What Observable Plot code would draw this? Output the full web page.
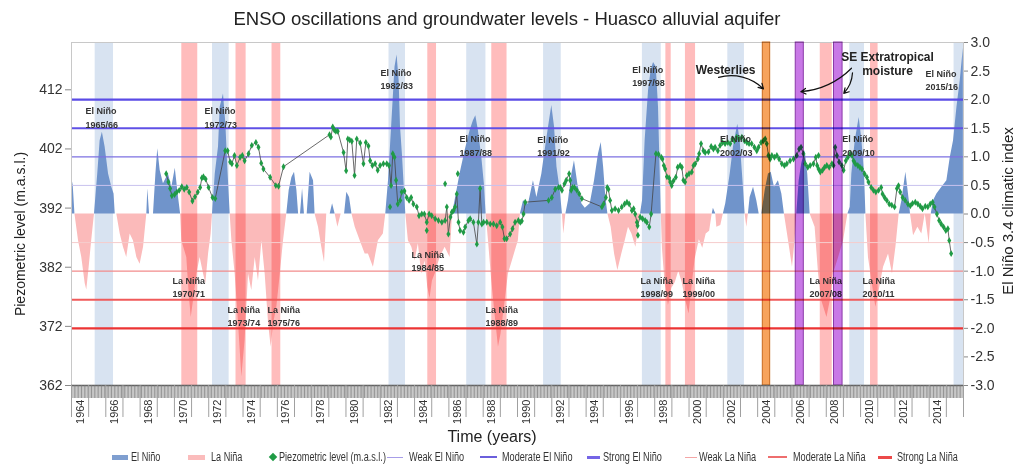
<!DOCTYPE html>
<html><head><meta charset="utf-8">
<script src="https://cdn.jsdelivr.net/npm/d3@7"></script>
<script src="https://cdn.jsdelivr.net/npm/@observablehq/plot@0.6"></script>
<style>
body{margin:0;background:#fff;font-family:Arial,"Liberation Sans",sans-serif;color:#222;}
#wrap{position:relative;width:1019px;height:467px;overflow:hidden;background:#fff;}
#chart{position:absolute;left:0;top:0;}
.abs{position:absolute;white-space:nowrap;}
.rot{transform:translate(-50%,-50%) rotate(-90deg);}
.leg{position:absolute;top:450px;height:14px;font-family:Arial,"Liberation Sans",sans-serif;font-size:12px;line-height:14px;color:#333;white-space:nowrap;transform:scaleX(0.76);transform-origin:0 50%;}
.sw{position:absolute;}
</style></head><body>
<div id="wrap"><div id="chart"></div></div>
<script>
// ---------------- data ----------------
const ensoIndex = [
[1964.0,0.65],[1964.1,0.5],[1964.2,0],
[1964.41,-0.47],[1964.6,-0.76],[1964.8,-1.22],[1964.89,-1.33],[1965.03,-0.93],[1965.18,-0.46],[1965.34,0],
[1965.53,0.7],[1965.67,1.28],[1965.8,1.43],[1965.96,1.17],[1966.16,0.7],[1966.35,0.47],[1966.48,0.35],[1966.55,0],
[1966.64,0],[1966.84,-0.35],[1967.03,-0.58],[1967.22,-0.76],[1967.42,-0.35],[1967.61,-0.47],[1967.81,-0.76],[1968.0,-0.88],[1968.2,-0.58],[1968.39,0],
[1968.45,0.44],[1968.55,0],[1968.78,0],[1968.92,0.7],[1969.03,1.14],[1969.17,0.76],[1969.36,0.53],[1969.65,0.7],[1969.85,0.47],[1970.05,0.8],[1970.24,0.29],[1970.36,0],
[1970.43,-0.47],[1970.72,-0.76],[1970.86,-1.4],[1970.98,-1.81],[1971.11,-1.52],[1971.31,-1.05],[1971.5,-0.76],[1971.7,-1.05],[1971.83,-1.22],[1971.99,-0.7],[1972.14,-0.35],[1972.22,0],
[1972.38,0.7],[1972.57,1.17],[1972.67,1.87],[1972.86,2.1],[1973.0,1.57],[1973.11,0.82],[1973.25,0],
[1973.35,-0.47],[1973.54,-1.05],[1973.74,-1.92],[1973.93,-2.85],[1974.12,-2.21],[1974.32,-1.05],[1974.51,-1.34],[1974.71,-0.76],[1974.9,-1.17],[1975.1,-0.47],[1975.29,-1.05],[1975.49,-1.92],[1975.64,-2.33],[1975.78,-1.92],[1975.97,-1.63],[1976.17,-1.05],[1976.36,-0.47],[1976.55,0],
[1976.69,0.41],[1976.85,0.64],[1977.0,0.73],[1977.14,0.41],[1977.24,0],[1977.35,0],[1977.47,0.44],[1977.58,0],[1977.74,0],[1977.91,0.73],[1978.11,0.58],[1978.2,0],
[1978.4,-0.23],[1978.59,-0.58],[1978.75,-0.85],[1978.88,0],
[1979.08,0],[1979.22,0.18],[1979.37,0],
[1979.53,-0.23],[1979.72,0],
[1979.92,0],[1980.05,0.38],[1980.21,0.29],[1980.35,0],
[1980.54,-0.23],[1980.83,-0.47],[1981.12,-0.7],[1981.31,-0.7],[1981.6,-0.93],[1981.89,-0.47],[1982.18,-0.35],[1982.32,0],
[1982.48,0.58],[1982.67,1.57],[1982.86,2.57],[1982.98,2.78],[1983.1,2.33],[1983.18,1.52],[1983.29,1.05],[1983.41,0.41],[1983.49,0],
[1983.64,-0.47],[1983.84,-0.58],[1984.03,-0.82],[1984.22,-0.52],[1984.42,-1.05],[1984.61,-0.82],[1984.77,-1.28],[1984.9,-1.48],[1985.04,-1.17],[1985.2,-1.05],[1985.49,-0.76],[1985.78,-0.58],[1986.07,-0.76],[1986.21,0],
[1986.36,0.23],[1986.65,0.7],[1986.95,1.11],[1987.24,1.46],[1987.43,1.63],[1987.57,1.72],[1987.72,1.46],[1987.92,0.99],[1988.07,0.52],[1988.17,0],
[1988.31,-0.47],[1988.5,-1.17],[1988.69,-1.75],[1988.89,-2.33],[1989.04,-2.1],[1989.28,-1.52],[1989.47,-1.05],[1989.76,-0.76],[1990.05,-0.47],[1990.17,0],
[1990.35,0.23],[1990.64,0.17],[1990.93,0.58],[1991.13,0.29],[1991.42,0.7],[1991.61,1.11],[1991.81,1.52],[1992.0,1.9],[1992.16,1.52],[1992.3,0.82],[1992.49,0.41],[1992.62,0],
[1992.7,-0.35],[1992.82,0],
[1992.97,0.23],[1993.17,0.7],[1993.32,0.93],[1993.52,0.52],[1993.75,0.18],[1993.95,0.1],[1994.24,0.18],[1994.49,0.58],[1994.72,1.05],[1994.88,1.25],[1995.02,0.82],[1995.15,0.29],[1995.27,0],
[1995.46,-0.23],[1995.66,-0.7],[1995.85,-0.99],[1996.08,-0.7],[1996.28,-0.47],[1996.47,-0.23],[1996.67,-0.35],[1996.9,-0.58],[1997.06,-0.23],[1997.17,0],
[1997.29,0.23],[1997.44,1.28],[1997.64,2.16],[1997.79,2.51],[1997.93,2.65],[1998.09,2.57],[1998.22,1.87],[1998.32,0.7],[1998.38,0],
[1998.45,-0.6],[1998.6,-1.2],[1998.8,-1.6],[1999.0,-1.3],[1999.2,-1.2],[1999.4,-1.0],[1999.6,-1.2],[1999.8,-1.5],[2000.0,-1.75],[2000.2,-1.2],[2000.35,-0.8],[2000.6,-0.45],[2000.8,-0.6],[2001.0,-0.35],[2001.2,-0.3],[2001.35,0],
[2001.42,0.1],[2001.56,0],
[2001.62,-0.23],[2001.85,-0.2],[2002.0,0],
[2002.14,0.18],[2002.4,0.7],[2002.59,1.17],[2002.84,1.57],[2002.98,1.28],[2003.17,0.47],[2003.27,0],
[2003.37,-0.23],[2003.46,0],
[2003.56,0.29],[2003.76,0.47],[2003.95,0.23],[2004.09,0],[2004.24,0],[2004.44,0.41],[2004.63,0.7],[2004.79,0.73],[2004.98,0.47],[2005.21,0.58],[2005.41,0.35],[2005.56,0],
[2005.8,-0.47],[2006.03,-0.93],[2006.18,-0.47],[2006.28,0],
[2006.42,0.58],[2006.57,0.88],[2006.77,1.11],[2006.92,0.7],[2007.06,0],
[2007.35,-0.23],[2007.55,-1.05],[2007.74,-1.52],[2008.04,-1.81],[2008.23,-1.52],[2008.42,-1.05],[2008.72,-0.76],[2009.01,-0.47],[2009.26,0],
[2009.4,0.12],[2009.49,0.7],[2009.69,1.28],[2009.92,1.69],[2010.08,1.28],[2010.23,0.7],[2010.31,0],
[2010.46,-0.76],[2010.66,-1.17],[2010.89,-1.63],[2011.05,-1.4],[2011.34,-0.93],[2011.63,-0.7],[2011.86,-1.05],[2012.06,-0.58],[2012.25,0],
[2012.41,0.23],[2012.64,0.73],[2012.84,0.23],[2012.91,0],
[2013.09,-0.38],[2013.34,-0.23],[2013.57,-0.35],[2013.77,0],[2014.0,-0.52],[2014.12,0],
[2014.25,0.23],[2014.45,0.35],[2014.74,0.47],[2015.03,0.58],[2015.23,0.99],[2015.42,1.28],[2015.62,1.87],[2015.81,2.33],[2015.99,2.9]
];

const piezoLevels = [
[1969.52,397.8],[1969.65,396.4],[1969.75,395.3],[1969.85,394.1],[1970.01,394.3],[1970.14,394.7],[1970.28,395.0],[1970.43,395.6],[1970.57,395.2],[1970.72,395.5],[1970.86,394.7],[1971.05,393.2],[1971.2,393.9],[1971.36,394.7],[1971.5,395.5],[1971.6,397.1],[1971.69,397.3],[1971.82,396.9],[1971.99,395.5],[1972.22,393.8],[1972.38,393.6],
[1972.96,401.7],[1973.1,401.7],[1973.25,399.8],[1973.35,399.5],[1973.5,400.9],[1973.64,399.2],[1973.83,400.6],[1973.96,400.9],[1974.09,400.0],[1974.32,401.2],[1974.51,402.6],[1974.75,403.1],[1974.9,402.3],[1975.06,399.6],[1975.19,398.6],[1975.58,397.2],[1975.91,395.8],[1976.07,395.7],[1976.36,399.0],
[1979.04,404.4],[1979.12,404.0],[1979.23,405.7],[1979.32,405.2],[1979.41,405.0],[1979.52,405.0],[1979.86,401.4],[1980.01,398.3],[1980.11,403.7],[1980.22,403.5],[1980.34,403.3],[1980.5,397.5],[1980.63,403.7],[1980.83,403.0],[1981.02,399.5],[1981.16,403.1],[1981.31,402.5],[1981.41,400.0],[1981.54,399.2],[1981.7,399.5],[1981.85,398.4],[1981.99,399.2],[1982.18,399.5],[1982.38,399.5],[1982.51,399.2],[1982.63,395.8],[1982.73,401.2],[1982.83,400.6],[1982.92,396.7],
[1983.02,392.7],[1983.16,393.3],[1983.25,394.7],[1983.41,394.9],[1983.54,393.8],[1983.68,393.3],[1983.8,393.8],[1983.93,392.7],[1984.13,392.2],[1984.26,390.7],[1984.42,391.0],[1984.57,391.0],[1984.71,389.6],[1984.85,391.0],[1985.0,390.7],[1985.2,390.2],[1985.39,389.9],[1985.59,389.6],[1985.78,389.9],[1985.88,392.2],[1985.97,387.6],[1986.09,390.5],[1986.17,391.3],[1986.27,391.6],[1986.36,392.2],[1986.46,394.4],[1986.56,389.6],[1986.65,388.2],[1986.85,387.9],[1986.95,388.8],[1987.14,389.9],[1987.24,390.2],[1987.43,389.6],[1987.63,385.9],[1987.72,389.6],[1987.82,395.3],[1987.92,389.3],[1988.02,389.6],[1988.21,389.6],[1988.41,389.3],[1988.6,389.3],[1988.79,389.0],[1988.99,389.6],[1989.12,388.8],[1989.24,386.8],[1989.37,386.8],[1989.57,387.6],[1989.71,388.5],[1989.86,389.6],
[1990.05,389.9],[1990.16,389.6],[1990.25,389.8],[1990.35,391.0],[1990.45,393.0],[1991.81,393.3],[1992.0,393.8],[1992.2,395.2],[1992.39,395.5],[1992.49,395.5],[1992.59,395.0],[1992.74,396.1],[1992.84,396.7],[1993.01,397.8],[1993.07,396.7],[1993.13,395.0],[1993.21,395.5],[1993.32,395.5],[1993.46,395.0],[1993.6,394.4],[1993.75,393.6],
[1994.92,392.2],[1995.02,392.7],[1995.15,393.8],[1995.23,395.5],[1995.3,395.2],[1995.4,393.3],[1995.5,391.6],[1995.69,391.9],[1995.89,391.6],[1996.08,392.2],[1996.24,392.7],[1996.38,393.0],[1996.51,392.7],[1996.67,391.6],[1996.77,391.9],[1996.86,391.0],[1996.96,389.6],[1997.0,389.0],[1997.15,390.5],[1997.29,390.2],[1997.44,389.9],[1997.54,389.6],[1997.68,388.8],[1997.79,391.0],
[1998.07,401.2],[1998.22,401.1],[1998.38,400.6],[1998.45,400.3],[1998.53,399.2],[1998.61,398.6],[1998.71,397.3],[1998.84,397.1],[1998.9,396.4],[1998.99,395.8],[1999.09,396.6],[1999.23,397.2],[1999.34,398.9],[1999.48,399.2],[1999.58,398.9],[1999.67,396.7],[1999.77,396.4],[1999.87,397.5],[2000.0,397.8],[2000.16,398.1],[2000.26,399.2],[2000.36,399.5],[2000.51,400.3],[2000.59,401.2],[2000.7,402.9],[2000.84,401.7],[2000.94,401.4],[2001.13,401.5],[2001.29,402.4],[2001.42,402.0],[2001.52,402.3],[2001.68,401.7],[2001.81,402.6],[2001.95,403.1],
[2002.1,402.9],[2002.26,403.1],[2002.4,402.9],[2002.53,403.7],[2002.65,403.4],[2002.78,404.0],[2002.92,403.7],[2003.08,404.0],[2003.23,403.4],[2003.37,403.1],[2003.5,402.9],[2003.65,402.9],[2003.81,402.3],[2003.95,401.7],[2004.05,402.3],[2004.2,403.1],[2004.34,403.4],[2004.44,403.7],[2004.53,402.9],[2004.63,400.9],[2004.73,400.3],[2004.83,400.9],[2004.98,400.6],[2005.12,400.9],[2005.25,400.3],[2005.41,399.5],[2005.56,399.2],[2005.7,399.5],[2005.89,400.0],[2006.09,400.3],[2006.28,400.9],[2006.42,402.0],[2006.53,402.3],[2006.67,401.2],[2006.77,399.5],[2006.92,398.9],[2007.06,399.2],[2007.25,399.5],[2007.39,400.6],[2007.47,399.2],
[2007.55,398.6],[2007.65,398.1],[2007.78,398.4],[2007.9,398.9],[2008.03,399.2],[2008.17,398.9],[2008.33,399.5],[2008.42,399.2],[2008.52,402.3],[2008.62,400.9],[2008.75,399.8],[2008.91,399.2],[2009.01,398.4],[2009.14,400.0],[2009.26,400.6],[2009.4,401.2],[2009.5,400.9],[2009.59,400.0],[2009.69,399.5],[2009.84,399.2],[2009.96,398.9],[2010.08,398.6],[2010.23,397.8],[2010.37,397.2],[2010.46,396.4],[2010.62,395.5],[2010.75,395.0],[2010.89,394.7],[2011.05,395.0],[2011.2,395.5],[2011.28,394.4],[2011.4,393.8],[2011.53,393.3],[2011.67,392.7],[2011.82,392.5],[2011.98,392.2],
[2012.12,395.3],[2012.21,395.8],[2012.31,394.7],[2012.45,393.8],[2012.6,393.3],[2012.76,392.7],[2012.9,392.4],[2013.03,392.8],[2013.19,393.0],[2013.34,392.7],[2013.48,392.3],[2013.61,391.9],[2013.77,392.3],[2013.92,392.2],[2014.06,392.7],[2014.2,393.0],[2014.31,392.2],[2014.45,391.0],[2014.58,389.9],[2014.7,389.3],[2014.84,388.8],[2014.97,388.2],[2015.09,388.5],[2015.17,386.5],[2015.28,384.3]
];
const piezoIsolated = [[1982.57,392.2],[1984.71,388.2],[1985.78,396.1],[1986.52,397.8],[1997.02,387.4],[2007.55,400.9]];

const elNinoPeriods = [[1965.38,1966.45],[1972.22,1973.19],[1982.51,1983.47],[1987.04,1988.16],[1991.52,1992.55],[1997.28,1998.38],[2002.26,2003.23],[2009.37,2010.23],[2015.45,2016.0]];
const laNinaPeriods = [[1970.43,1971.36],[1973.59,1974.18],[1975.69,1976.2],[1984.77,1985.28],[1988.5,1989.39],[1998.65,1998.96],[1999.79,2000.38],[2007.65,2008.35],[2010.58,2011.02]];
const westerliesEvents = [[2004.3,2004.73]];
const seMoistureEvents = [[2006.22,2006.69],[2008.45,2008.95]];

const elNinoThresholds = [0.5, 1.0, 1.5, 2.0];
const laNinaThresholds = [-0.5, -1.0, -1.5, -2.0];

const xTickYears = [1964,1966,1968,1970,1972,1974,1976,1978,1980,1982,1984,1986,1988,1990,1992,1994,1996,1998,2000,2002,2004,2006,2008,2010,2012,2014];
const leftTicks = [362,372,382,392,402,412];
const rightTicks = [-3,-2.5,-2,-1.5,-1,-0.5,0,0.5,1,1.5,2,2.5,3];

const elNinoLabels = [
 ["El Niño\n1965/66",1964.82,1.70],["El Niño\n1972/73",1971.75,1.70],["El Niño\n1982/83",1982.01,2.37],
 ["El Niño\n1987/88",1986.62,1.21],["El Niño\n1991/92",1991.15,1.20],["El Niño\n1997/98",1996.69,2.42],
 ["El Niño\n2002/03",2001.80,1.21],["El Niño\n2009/10",2008.93,1.21],["El Niño\n2015/16",2013.79,2.36]
];
const laNinaLabels = [
 ["La Niña\n1970/71",1969.89,-1.27],["La Niña\n1973/74",1973.10,-1.77],["La Niña\n1975/76",1975.43,-1.77],
 ["La Niña\n1984/85",1983.82,-0.81],["La Niña\n1988/89",1988.13,-1.77],["La Niña\n1998/99",1997.17,-1.27],
 ["La Niña\n1999/00",1999.62,-1.27],["La Niña\n2007/08",2007.02,-1.27],["La Niña\n2010/11",2010.11,-1.27]
];
const eventLabels = [["Westerlies",2002.13,2.51],["SE Extratropical",2011.57,2.74],["moisture",2011.57,2.49]];
const westerliesArrow = [{x1:2001.72,v1:2.39,x2:2004.34,v2:2.19}];
const moistureArrowA = [{x1:2009.47,v1:2.55,x2:2006.52,v2:2.14}];
const moistureArrowB = [{x1:2009.53,v1:2.47,x2:2009.02,v2:2.11}];

// ----------- dual axis mapping: ENSO index -> piezometric scale -----------
const levelDomain = [362, 420];
const indexZero = (levelDomain[0] + levelDomain[1]) / 2;
const k = (levelDomain[1] - levelDomain[0]) / 6;
const toL = v => indexZero + v * k;

const months = d3.range(0, 52 * 12).map(i => 1964 + i / 12);
const years = d3.range(1964, 2017);

const thrStyle = {
  "0.5": ["#c9c2ee", 1], "1": ["#7c70e2", 1.3], "1.5": ["#5f50e6", 2], "2": ["#5a4be6", 2.2],
  "-0.5": ["#f6cccc", 1], "-1": ["#f28b8b", 1.3], "-1.5": ["#f05a5a", 2], "-2": ["#ec3434", 2.4]
};
const thrAll = [...elNinoThresholds, ...laNinaThresholds];

const font = "Arial, 'Liberation Sans', sans-serif";
const arrowOpts = (bend) => ({x1: "x1", y1: d => toL(d.v1), x2: "x2", y2: d => toL(d.v2), bend, stroke: "#111", strokeWidth: 1.2, headLength: 7});

const chart = Plot.plot({
  width: 1019, height: 447,
  marginTop: 42, marginBottom: 62, marginLeft: 71, marginRight: 56,
  x: {domain: [1964, 2016]},
  y: {domain: levelDomain},
  style: {fontFamily: font, fontSize: "14px", color: "#333", background: "transparent", overflow: "visible"},
  marks: [
    Plot.rect(elNinoPeriods, {x1: d => d[0], x2: d => d[1], fill: "#d8e3f1"}),
    Plot.areaY(ensoIndex, {x: d => d[0], y1: indexZero, y2: d => toL(Math.max(0, d[1])), fill: "#7094cb"}),
    Plot.areaY(ensoIndex, {x: d => d[0], y1: indexZero, y2: d => toL(Math.min(0, d[1])), fill: "#fbbaba"}),
    Plot.rect(laNinaPeriods, {x1: d => d[0], x2: d => d[1], fill: "#ffbcbc", mixBlendMode: "multiply"}),
    Plot.ruleY(thrAll, {y: d => toL(d), stroke: d => thrStyle[String(d)][0], strokeWidth: d => thrStyle[String(d)][1]}),
    Plot.frame({stroke: "#c8c8c8"}),
    Plot.line(piezoLevels, {x: d => d[0], y: d => d[1], stroke: "#444", strokeWidth: 0.8}),
    Plot.dot(piezoLevels, {x: d => d[0], y: d => d[1], symbol: "diamond", r: 2.1, fill: "#1f9b45", stroke: "none"}),
    Plot.dot(piezoIsolated, {x: d => d[0], y: d => d[1], symbol: "diamond", r: 2.1, fill: "#1f9b45", stroke: "none"}),
    Plot.text(elNinoLabels, {x: d => d[1], y: d => toL(d[2]), text: d => d[0], textAnchor: "start", lineAnchor: "middle", fontSize: 9, fontWeight: "bold", lineHeight: 1.45, fill: "#333", fontFamily: font}),
    Plot.text(laNinaLabels, {x: d => d[1], y: d => toL(d[2]), text: d => d[0], textAnchor: "start", lineAnchor: "middle", fontSize: 9, fontWeight: "bold", lineHeight: 1.45, fill: "#333", fontFamily: font}),
    Plot.rect(westerliesEvents, {x1: d => d[0], x2: d => d[1], fill: "#f7a35c", stroke: "#c86a1e", strokeWidth: 1, mixBlendMode: "multiply"}),
    Plot.rect(seMoistureEvents, {x1: d => d[0], x2: d => d[1], fill: "#c878e6", stroke: "#8a3aa8", strokeWidth: 1, mixBlendMode: "multiply"}),
    Plot.text(eventLabels, {x: d => d[1], y: d => toL(d[2]), text: d => d[0], textAnchor: "middle", fontSize: 12, fontWeight: "bold", fill: "#222", fontFamily: font}),
    Plot.arrow(westerliesArrow, arrowOpts(30)),
    Plot.arrow(moistureArrowA, arrowOpts(20)),
    Plot.arrow(moistureArrowB, arrowOpts(20)),
    Plot.ruleY([levelDomain[0]], {stroke: "#555", strokeWidth: 1.5}),
    Plot.axisX({ticks: months, tickSize: 13, tickFormat: () => "", stroke: "#7a7a7a", strokeWidth: 0.8}),
    Plot.axisX({ticks: years, tickSize: 32, tickFormat: () => "", stroke: "#a0a0a0", strokeWidth: 1}),
    Plot.axisX({ticks: xTickYears.map(y => y + 0.5), tickFormat: d => String(Math.floor(d)), tickRotate: -90, tickSize: 0, tickPadding: 14, fontSize: 11, fill: "#333", label: null}),
    Plot.axisY({anchor: "left", ticks: leftTicks, tickSize: 6, tickPadding: 3, fontSize: 14, label: null, stroke: "#888"}),
    Plot.axisY({anchor: "right", ticks: rightTicks.map(toL), tickFormat: L => ((L - indexZero) / k).toFixed(1), tickSize: 4, tickPadding: 3, fontSize: 14, label: null, stroke: "#888"})
  ]
});
document.getElementById("chart").appendChild(chart);

// ---------------- titles & legend (HTML) ----------------
const wrap = document.getElementById("wrap");
function addText(txt, css, cls) {
  const d = document.createElement("div");
  d.className = "abs " + (cls || "");
  d.textContent = txt;
  Object.assign(d.style, css);
  wrap.appendChild(d);
  return d;
}
addText("ENSO oscillations and groundwater levels - Huasco alluvial aquifer", {left: "507px", top: "19px", transform: "translate(-50%,-50%)", fontSize: "18.5px", color: "#222"});
addText("Piezometric level  (m.a.s.l.)", {left: "20px", top: "234px", fontSize: "14px", color: "#222"}, "rot");
addText("El Niño 3.4 climatic index", {left: "1007px", top: "211px", fontSize: "15px", color: "#222"}, "rot");
addText("Time (years)", {left: "492px", top: "437px", transform: "translate(-50%,-50%)", fontSize: "16px", color: "#222"});

const legendItems = [
  {label: "El Niño", kind: "rect", color: "#7f9fd0", sx: 112, sw: 16, h: 5, tx: 131},
  {label: "La Niña", kind: "rect", color: "#fbbcbc", sx: 188, sw: 17, h: 5, tx: 211},
  {label: "Piezometric level (m.a.s.l.)", kind: "diamond", color: "#1f9b45", sx: 270, sw: 6, h: 6, tx: 279},
  {label: "Weak El Niño", kind: "rect", color: "#a79de8", sx: 387, sw: 16, h: 1, tx: 409},
  {label: "Moderate El Niño", kind: "rect", color: "#6b5fdc", sx: 480, sw: 17, h: 2, tx: 502},
  {label: "Strong El Niño", kind: "rect", color: "#7565e6", sx: 587, sw: 13, h: 3, tx: 603},
  {label: "Weak La Niña", kind: "rect", color: "#f4a6a6", sx: 685, sw: 12, h: 1, tx: 699},
  {label: "Moderate La Niña", kind: "rect", color: "#ee6e6e", sx: 768, sw: 19, h: 2, tx: 793},
  {label: "Strong La Niña", kind: "rect", color: "#ec4a4a", sx: 878, sw: 14, h: 3, tx: 897}
];
legendItems.forEach(it => {
  const s = document.createElement("div");
  s.className = "sw";
  const cy = 457;
  Object.assign(s.style, {left: it.sx + "px", top: (cy - it.h / 2) + "px", width: it.sw + "px", height: it.h + "px", background: it.color});
  if (it.kind === "diamond") s.style.transform = "rotate(45deg)";
  wrap.appendChild(s);
  const t = document.createElement("div");
  t.className = "leg";
  t.style.left = it.tx + "px";
  t.textContent = it.label;
  wrap.appendChild(t);
});
</script></body></html>
